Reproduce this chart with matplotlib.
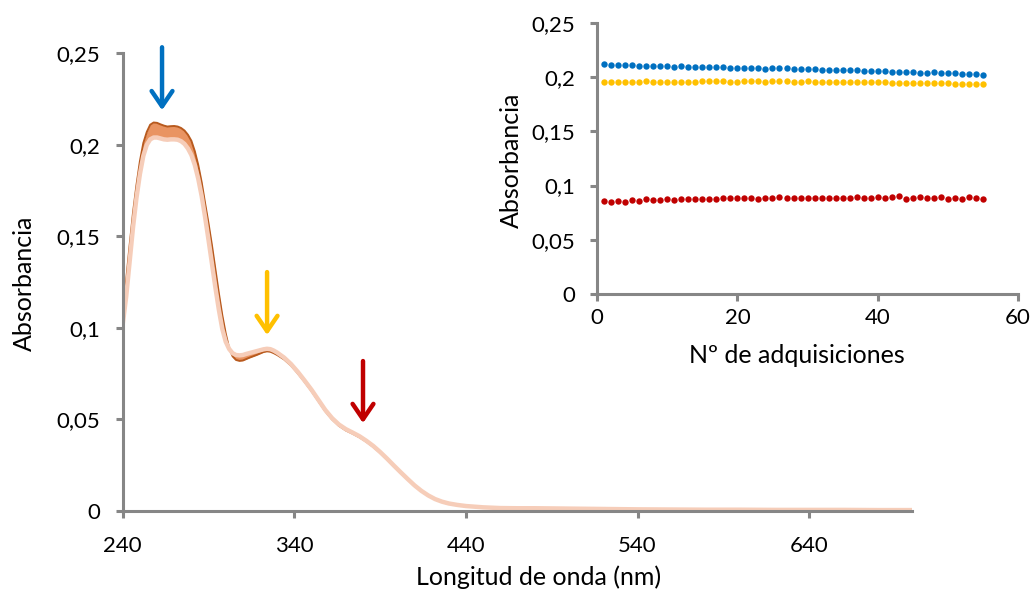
import matplotlib
matplotlib.use("Agg")
import matplotlib.pyplot as plt

plt.rcParams['font.family'] = ['Lato', 'DejaVu Sans']

# ---- main spectra data (wavelength nm, absorbance) ----
wavelength = [240, 242, 244, 246, 248, 250, 252, 254, 256, 258, 260, 262, 264, 266, 268, 270,
              272, 274, 276, 278, 280, 282, 284, 286, 288, 290, 292, 294, 296, 298, 300, 302,
              304, 306, 308, 310, 312, 314, 316, 318, 320, 322, 324, 326, 328, 330, 334, 338,
              342, 346, 350, 354, 358, 362, 366, 370, 374, 378, 382, 386, 390, 394, 398, 402,
              406, 410, 414, 418, 422, 426, 430, 435, 440, 450, 460, 470, 480, 490, 500, 520,
              540, 560, 580, 600, 620, 640, 660, 680, 700]

first_spectrum = [0.110, 0.126, 0.145, 0.163, 0.178, 0.191, 0.201, 0.207, 0.2110, 0.2122, 0.2120,
                  0.2112, 0.2105, 0.2100, 0.2102, 0.2103, 0.2100, 0.2092, 0.2078, 0.2055, 0.2022,
                  0.1965, 0.1890, 0.1795, 0.168, 0.157, 0.145, 0.132, 0.119, 0.107, 0.097, 0.089,
                  0.0845, 0.0825, 0.0820, 0.0822, 0.0830, 0.0838, 0.0845, 0.0852, 0.0860, 0.0868,
                  0.0872, 0.0870, 0.0862, 0.0852, 0.0828, 0.0795, 0.0752, 0.0705, 0.0655, 0.0600,
                  0.0545, 0.0500, 0.0465, 0.0440, 0.0422, 0.0402, 0.0378, 0.0350, 0.0318, 0.0282,
                  0.0245, 0.0208, 0.0172, 0.0138, 0.0108, 0.0083, 0.0063, 0.0049, 0.0039, 0.0031,
                  0.0026, 0.0019, 0.0015, 0.0014, 0.0014, 0.0013, 0.0012, 0.0010, 0.0008, 0.0007,
                  0.0006, 0.0006, 0.0005, 0.0005, 0.0005, 0.0004, 0.0004]

last_spectrum = [0.102, 0.117, 0.136, 0.155, 0.171, 0.184, 0.194, 0.200, 0.2030, 0.2040, 0.2040,
                 0.2035, 0.2030, 0.2028, 0.2030, 0.2030, 0.2028, 0.2020, 0.2005, 0.1980, 0.1945,
                 0.1890, 0.1815, 0.1720, 0.1605, 0.1480, 0.1350, 0.1220, 0.1100, 0.0995, 0.0925,
                 0.0885, 0.0862, 0.0852, 0.0850, 0.0852, 0.0858, 0.0863, 0.0868, 0.0873, 0.0878,
                 0.0883, 0.0886, 0.0884, 0.0876, 0.0865, 0.0838, 0.0803, 0.0760, 0.0712, 0.0662,
                 0.0607, 0.0552, 0.0507, 0.0472, 0.0447, 0.0428, 0.0408, 0.0383, 0.0355, 0.0322,
                 0.0286, 0.0248, 0.0211, 0.0175, 0.0140, 0.0110, 0.0085, 0.0065, 0.0051, 0.0041,
                 0.0033, 0.0027, 0.0020, 0.0016, 0.0015, 0.0015, 0.0014, 0.0013, 0.0011, 0.0009,
                 0.0008, 0.0007, 0.0007, 0.0006, 0.0006, 0.0006, 0.0005, 0.0005]

main_xticks = [240, 340, 440, 540, 640]
yticks = [0, 0.05, 0.1, 0.15, 0.2, 0.25]
ytick_labels = ["0", "0,05", "0,1", "0,15", "0,2", "0,25"]

# ---- inset data ----
acquisition = list(range(1, 56))
abs_blue = [0.2122, 0.2116, 0.2110, 0.2116, 0.2113, 0.2106, 0.2106, 0.2103, 0.2100, 0.2100,
            0.2097, 0.2100, 0.2094, 0.2094, 0.2091, 0.2091, 0.2094, 0.2091, 0.2085, 0.2085,
            0.2082, 0.2082, 0.2085, 0.2079, 0.2082, 0.2082, 0.2082, 0.2079, 0.2079, 0.2079,
            0.2073, 0.2070, 0.2070, 0.2070, 0.2066, 0.2066, 0.2063, 0.2060, 0.2057, 0.2054,
            0.2054, 0.2051, 0.2048, 0.2048, 0.2048, 0.2042, 0.2042, 0.2045, 0.2036, 0.2039,
            0.2039, 0.2030, 0.2027, 0.2027, 0.2020]
abs_yellow = [0.1959, 0.1959, 0.1956, 0.1959, 0.1959, 0.1959, 0.1962, 0.1959, 0.1959, 0.1959,
              0.1959, 0.1956, 0.1959, 0.1959, 0.1962, 0.1962, 0.1965, 0.1968, 0.1959, 0.1959,
              0.1962, 0.1968, 0.1962, 0.1959, 0.1962, 0.1965, 0.1962, 0.1959, 0.1959, 0.1962,
              0.1959, 0.1959, 0.1959, 0.1956, 0.1956, 0.1953, 0.1956, 0.1953, 0.1953, 0.1953,
              0.1953, 0.1950, 0.1950, 0.1950, 0.1950, 0.1947, 0.1947, 0.1943, 0.1943, 0.1943,
              0.1940, 0.1940, 0.1937, 0.1937, 0.1937]
abs_red = [0.0861, 0.0849, 0.0855, 0.0849, 0.0867, 0.0861, 0.0877, 0.0870, 0.0864, 0.0873,
           0.0870, 0.0877, 0.0877, 0.0877, 0.0880, 0.0873, 0.0873, 0.0883, 0.0883, 0.0886,
           0.0889, 0.0886, 0.0880, 0.0883, 0.0883, 0.0892, 0.0889, 0.0889, 0.0889, 0.0889,
           0.0889, 0.0889, 0.0889, 0.0889, 0.0889, 0.0889, 0.0892, 0.0886, 0.0886, 0.0895,
           0.0886, 0.0892, 0.0901, 0.0880, 0.0883, 0.0892, 0.0889, 0.0886, 0.0895, 0.0877,
           0.0886, 0.0880, 0.0892, 0.0883, 0.0877]
inset_xticks = [0, 20, 40, 60]

BLUE = '#0070C0'
YELLOW = '#FFC000'
RED = '#C00000'
AXIS_GRAY = '#868686'
FS_TICK = 16
FS_LABEL = 18

fig = plt.figure(figsize=(10.34, 5.95), dpi=100)

# ---------------- main axes ----------------
ax = fig.add_axes([0.1187, 0.1412, 0.7635, 0.7692])
ax.fill_between(wavelength, first_spectrum, last_spectrum, color='#E99462', lw=0)
ax.plot(wavelength, first_spectrum, color='#B85A1E', lw=1.4, solid_joinstyle='round')
ax.plot(wavelength, last_spectrum, color='#F6CDB9', lw=3.2, solid_joinstyle='round')
ax.set_xlim(240, 700)
ax.set_ylim(0, 0.25)
ax.set_xticks(main_xticks)
ax.set_yticks(yticks)
ax.set_yticklabels(ytick_labels)
for s in ['top', 'right']:
    ax.spines[s].set_visible(False)
for s in ['left', 'bottom']:
    ax.spines[s].set_color(AXIS_GRAY)
    ax.spines[s].set_linewidth(2.2)
ax.tick_params(axis='both', direction='out', length=5, width=2.2, color=AXIS_GRAY,
               labelsize=FS_TICK, labelcolor='black')
ax.tick_params(axis='x', pad=13)
ax.tick_params(axis='y', pad=11)

fig.text(0.521, 0.030, 'Longitud de onda (nm)', ha='center', va='center', fontsize=FS_LABEL)
fig.text(0.024, 0.524, 'Absorbancia', ha='center', va='center', rotation=90, fontsize=FS_LABEL)

arrow_kw = dict(arrowstyle='->, head_length=1.1, head_width=0.75', lw=3.2,
                shrinkA=0, shrinkB=0, mutation_scale=10)
for (xa, y0, y1, c) in [(262.9, 0.2533, 0.2189, BLUE),
                        (324.1, 0.1305, 0.0961, YELLOW),
                        (380.0, 0.0819, 0.0480, RED)]:
    ax.annotate('', xy=(xa, y1), xytext=(xa, y0), annotation_clip=False,
                arrowprops=dict(color=c, **arrow_kw))

# ---------------- inset axes ----------------
ins = fig.add_axes([0.5774, 0.5059, 0.4072, 0.4555])
ms = 4.6
ins.plot(acquisition, abs_blue, 'o', color=BLUE, ms=ms, mew=0)
ins.plot(acquisition, abs_yellow, 'o', color=YELLOW, ms=ms, mew=0)
ins.plot(acquisition, abs_red, 'o', color=RED, ms=ms, mew=0)
ins.set_xlim(0, 60)
ins.set_ylim(0, 0.25)
ins.set_xticks(inset_xticks)
ins.set_yticks(yticks)
ins.set_yticklabels(ytick_labels)
for s in ['top', 'right']:
    ins.spines[s].set_visible(False)
for s in ['left', 'bottom']:
    ins.spines[s].set_color(AXIS_GRAY)
    ins.spines[s].set_linewidth(2.2)
ins.tick_params(axis='both', direction='out', length=5, width=2.2, color=AXIS_GRAY,
                labelsize=FS_TICK, labelcolor='black')
ins.tick_params(axis='x', pad=5)
ins.tick_params(axis='y', pad=11)
fig.text(0.771, 0.403, 'Nº de adquisiciones', ha='center', va='center', fontsize=FS_LABEL)
fig.text(0.495, 0.731, 'Absorbancia', ha='center', va='center', rotation=90, fontsize=FS_LABEL)

fig.savefig('out.png', dpi=100)
